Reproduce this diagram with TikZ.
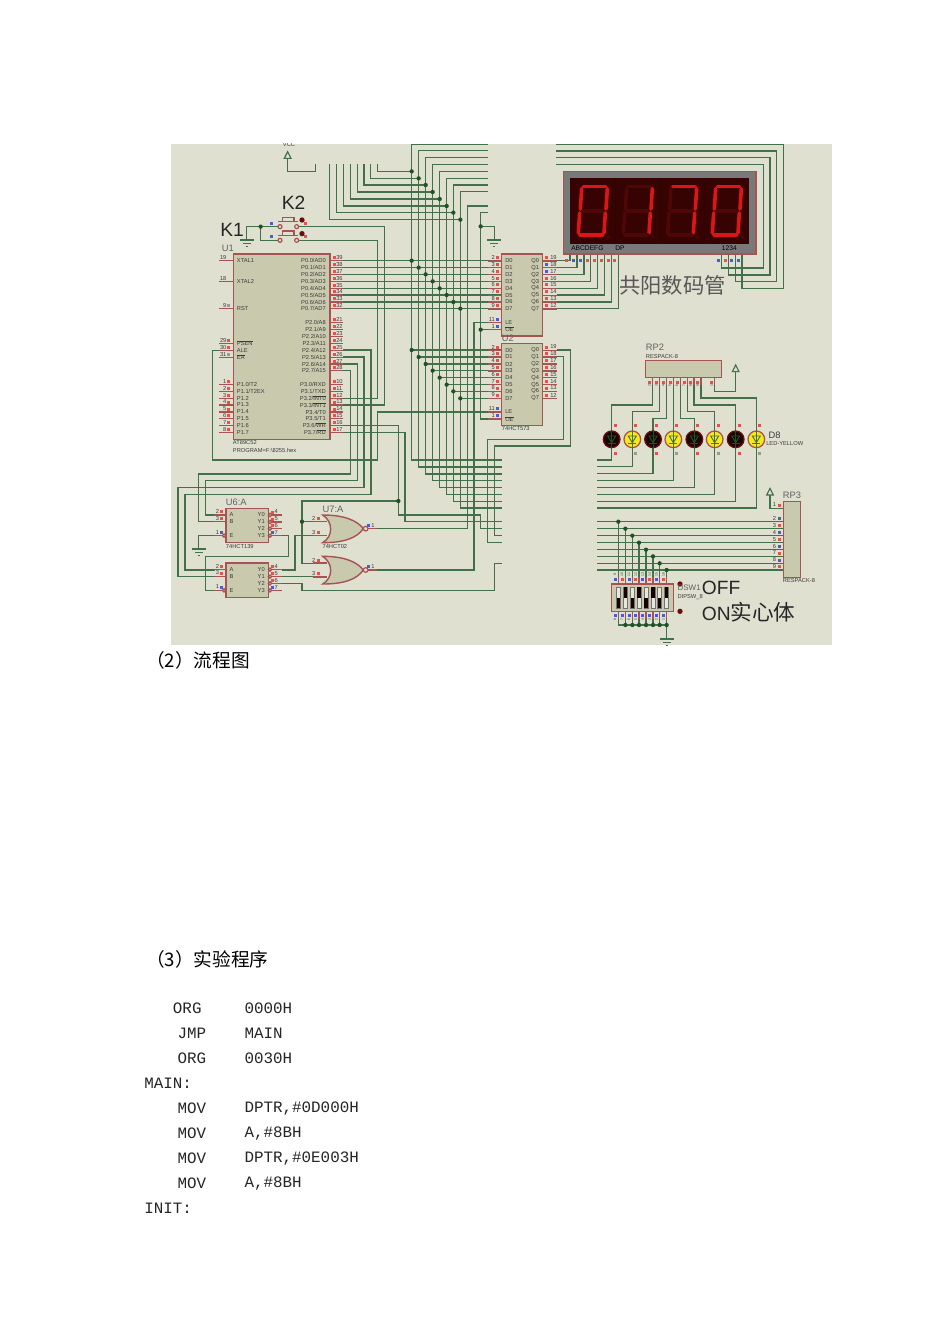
\documentclass[tikz,border=0pt]{standalone}
\usepackage{fontspec}
\setmainfont{Liberation Sans}
\newfontfamily\cjk{Noto Sans CJK SC}
\newfontfamily\codefont{Liberation Mono}
\definecolor{bgc}{HTML}{DFE0D0}
\definecolor{wirec}{HTML}{42704A}
\definecolor{dotc}{HTML}{1F5224}
\definecolor{pinc}{HTML}{A65353}
\definecolor{chipf}{HTML}{C9C9AE}
\definecolor{pr}{HTML}{E8504A}
\definecolor{pb}{HTML}{4A5AD8}
\definecolor{pg}{HTML}{999999}
\definecolor{pn}{HTML}{DFE0D0}
\definecolor{segon}{HTML}{DC1616}
\definecolor{segoff}{HTML}{4E0606}
\definecolor{txtc}{HTML}{3A3A3A}
\definecolor{darkred}{HTML}{6E0B0B}
\definecolor{ledy}{HTML}{F7E81C}
\definecolor{ledk}{HTML}{1C0404}
\definecolor{innerc}{HTML}{360202}
\tikzset{
  zone1/.style={shift={(170,140)},x=0.25pt,y=-0.25pt},
  zone2/.style={shift={(480,140)},x=0.25pt,y=-0.25pt},
  zone3/.style={shift={(170,440)},x=0.25pt,y=-0.25pt},
  zone4/.style={shift={(480,440)},x=0.25pt,y=-0.25pt},
  zone6/.style={shift={(440,200)},x=0.25pt,y=-0.25pt},
  wire/.style={draw=wirec,line width=0.85pt},
  pin/.style={draw=pinc,line width=0.9pt},
  chip/.style={draw=pinc,line width=1.05pt,fill=chipf},
  lbl/.style={inner sep=0pt,text=txtc,font=\fontsize{4.3}{5}\selectfont},
  mid/.style={inner sep=0pt,text=txtc!80,font=\fontsize{7}{8}\selectfont},
  big/.style={inner sep=0pt,text=black!85,font=\fontsize{14.4}{16}\selectfont},
  tinyrot/.style={inner sep=0pt,text=txtc,rotate=90,font=\fontsize{2.6}{3}\selectfont},
  para/.style={inner sep=0pt,anchor=west,text=black,font=\cjk\fontsize{14}{16}\selectfont},
  code/.style={inner sep=0pt,anchor=west,text=black!85,font=\codefont\fontsize{11.9}{13}\selectfont},
}
\newcommand\pad[3]{\fill[#1] ({#2-4.5},{#3-4.5}) rectangle ({#2+4.5},{#3+4.5});}
\newcommand\jn[2]{\fill[dotc] (#1,#2) circle[radius=6.5];}
\newcommand\gnd[2]{\draw[wire] ({#1-21},#2)--({#1+21},#2) ({#1-12},{#2+10})--({#1+12},{#2+10}) ({#1-3},{#2+20})--({#1+3},{#2+20});}
\newcommand\vcc[2]{\draw[wire,fill=bgc] (#1,{#2-10})--({#1-10},{#2+10})--({#1+10},{#2+10})--cycle;}
\newcommand\ovl[1]{\setbox0\hbox{#1}\rlap{\raisebox{\dimexpr\ht0+0.25pt}{\rule{\wd0}{0.25pt}}}\box0}
\begin{document}
\begin{tikzpicture}[x=0.75pt,y=-0.75pt]
\useasboundingbox (0,0) rectangle (950,1344);
\fill[white] (0,0) rectangle (950,1344);
\fill[bgc] (171,144) rectangle (832,645);
\begin{scope}
\clip (171,144) rectangle (832,645);
% ---------- wires, left part
\begin{scope}[zone1]
\node[lbl] (vcctext) at (357,13) {VCC};
\vcc{353}{45}
\draw[wire] (353,55)--(353,95)--(437,95)--(437,73);
\foreach \xx/\tp/\nt/\st/\po/\ps/\bt in {
 725/13/94/622/362/630/960,
 746/31/115/602/383/651/981,
 767/52/135/582/403/672/1002,
 788/73/156/562/424/692/1022,
 809/94/177/541/445/713/1043,
 830/115/198/520/465/734/1063,
 850/135/218/499/486/754/1084,
 871/155/239/479/506/775/1104}{
  \draw[wire] (953,\tp)--(\xx,\tp)--(\xx,\bt)--(995,\bt);
  \draw[wire] (\st,73)--(\st,\nt)--(\xx,\nt);
  \draw[wire] (520,\po)--(995,\po);
  \draw[wire] (\xx,\ps)--(995,\ps);
  \jn{\xx}{\nt}\jn{\xx}{\po}\jn{\xx}{\ps}
}
\draw[wire] (520,630)--(603,630)--(603,1063)--(45,1063)--(45,1290)--(135,1290);
\draw[wire] (520,651)--(582,651)--(582,1043)--(24,1043)--(24,1310)--(135,1310);
\draw[wire] (520,672)--(562,672)--(562,1022)--(106,1022)--(106,1125)--(135,1125);
\draw[wire] (520,692)--(541,692)--(541,1002)--(86,1002)--(86,1145)--(135,1145);
\draw[wire] (480,775)--(622,775)--(622,301)--(380,301);
\draw[wire] (480,795)--(643,795)--(643,260)--(380,260);
\draw[wire] (147,631)--(128,631)--(128,960)--(622,960)--(622,816)--(995,816);
\draw[wire] (520,856)--(685,856)--(685,1125)--(932,1125)--(932,1166)--(995,1166);
\draw[wire] (685,1083)--(396,1083)--(396,1270)--(472,1270);
\draw[wire] (396,1145)--(472,1145);
\jn{685}{1083}\jn{396}{1145}
\draw[wire] (520,877)--(705,877)--(705,1145)--(995,1145);
\draw[wire] (622,1166)--(892,1166)--(892,198)--(953,198);
\draw[wire] (622,1290)--(912,1290)--(912,548)--(995,548);
\draw[wire] (953,218)--(932,218)--(932,837)--(995,837);
\draw[wire] (932,259)--(973,259)--(973,300);
\draw[wire] (932,569)--(995,569);
\jn{932}{259}\jn{932}{569}
\gnd{973}{300}
\draw[wire] (1160,630)--(1201,630)--(1201,918)--(973,918)--(973,1187)--(995,1187);
\draw[wire] (1160,650)--(1180,650)--(1180,898)--(953,898)--(953,1207)--(995,1207);
\draw[wire] (335,1331)--(396,1331)--(396,1352)--(973,1352)--(973,1270)--(995,1270);
\draw[wire] (335,1310)--(472,1310);
\draw[wire] (335,1187)--(355,1187)--(355,1250)--(106,1250)--(106,1352)--(135,1352);
\draw[wire] (135,1187)--(86,1187)--(86,1225);
\gnd{86}{1227}
\draw[wire] (335,1290)--(375,1290)--(375,1187)--(472,1187);
% K1 K2
\draw[wire] (230,300)--(230,260)--(330,260);
\draw[wire] (272,260)--(272,301)--(330,301);
\jn{272}{260}
\gnd{230}{300}
\foreach \yy/\uu in {260/a,301/b}{
  \draw[pin,fill=bgc] (330,\yy) circle[radius=6];
  \draw[pin,fill=bgc] (380,\yy) circle[radius=6];
  \draw[pin] (325,{\yy-15})--(385,{\yy-15});
  \draw[pin,fill=bgc] (337,{\yy-15}) rectangle (372,{\yy-28});
  \fill[darkred] (396,{\yy-20}) circle[radius=8];
  \pad{pr}{405}{\yy-10}
  \pad{pb}{303}{\yy-10}
}
\node[big,anchor=west] (kone) at (150,271) {K1};
\node[big,anchor=west] (ktwo) at (335,189) {K2};
% U1
\draw[chip] (190,342) rectangle (480,898);
\node[mid,anchor=west] (uone) at (155,325) {U1};
\node[lbl,anchor=west] (uonea) at (188,909) {AT89C52};
\node[lbl,anchor=west] (uoneb) at (188,930) {PROGRAM=F:\textbackslash 8255.hex};
\foreach \yy/\txt/\nn/\col in {
 362/XTAL1/19/pn,425/XTAL2/18/pn,506/RST/9/pg,
 610/{\ovl{PSEN}}/29/pr,631/ALE/30/pr,652/{\ovl{EA}}/31/pg,
 734/{P1.0/T2}/1/pr,754/{P1.1/T2EX}/2/pr,775/P1.2/3/pr,795/P1.3/4/pr,
 816/P1.4/5/pr,836/P1.5/6/pr,857/P1.6/7/pr,877/P1.7/8/pr}{
  \draw[pin] (147,\yy)--(190,\yy);
  \pad{\col}{176}{\yy-9}
  \node[lbl,anchor=east] (ln\nn) at (170,{\yy-9}) {\nn};
  \node[lbl,anchor=west] (lt\nn) at (200,\yy) {\txt};
}
\foreach \yy/\txt/\nn in {
 362/{P0.0/AD0}/39,383/{P0.1/AD1}/38,403/{P0.2/AD2}/37,424/{P0.3/AD3}/36,
 445/{P0.4/AD4}/35,465/{P0.5/AD5}/34,486/{P0.6/AD6}/33,506/{P0.7/AD7}/32,
 548/{P2.0/A8}/21,568/{P2.1/A9}/22,589/{P2.2/A10}/23,610/{P2.3/A11}/24,
 631/{P2.4/A12}/25,652/{P2.5/A13}/26,672/{P2.6/A14}/27,692/{P2.7/A15}/28,
 734/{P3.0/RXD}/10,754/{P3.1/TXD}/11,775/{P3.2/\ovl{INT0}}/12,795/{P3.3/\ovl{INT1}}/13,
 816/{P3.4/T0}/14,836/{P3.5/T1}/15,857/{P3.6/\ovl{WR}}/16,877/{P3.7/\ovl{RD}}/17}{
  \draw[pin] (480,\yy)--(520,\yy);
  \pad{pr}{492}{\yy-9}
  \node[lbl,anchor=west] (rn\nn) at (498,{\yy-9}) {\nn};
  \node[lbl,anchor=east] (rt\nn) at (468,\yy) {\txt};
}
\end{scope}
% ---------- latches
\begin{scope}[zone6]
\foreach \dy/\nm in {0/a,268/b}{
  \begin{scope}[yshift={-\dy*0.25pt}]
  \draw[chip] (185,162) rectangle (308,408);
  \foreach \yy/\ii/\ln/\rn in {183/0/2/19,203/1/3/18,224/2/4/17,245/3/5/16,265/4/6/15,286/5/7/14,306/6/8/13,327/7/9/12}{
    \draw[pin] (143,\yy)--(185,\yy) (308,\yy)--(350,\yy);
    \pad{pr}{172}{\yy-10}
    \pad{pr}{320}{\yy-10}
    \node[lbl,anchor=east] (dn\nm\ii) at (165,{\yy-10}) {\ln};
    \node[lbl,anchor=west] (qn\nm\ii) at (330,{\yy-10}) {\rn};
    \node[lbl,anchor=west] (dt\nm\ii) at (195,\yy) {D\ii};
    \node[lbl,anchor=east] (qt\nm\ii) at (298,\yy) {Q\ii};
  }
  \draw[pin] (143,368)--(185,368) (143,389)--(185,389);
  \pad{pb}{172}{358}\pad{pb}{172}{379}
  \node[lbl,anchor=east] (ln\nm) at (165,358) {11};
  \node[lbl,anchor=east] (on\nm) at (165,379) {1};
  \node[lbl,anchor=west] (lt\nm) at (195,368) {LE};
  \node[lbl,anchor=west] (ot\nm) at (195,389) {\ovl{OE}};
  \end{scope}
}
\pad{pb}{320}{193}\pad{pb}{320}{214}
\node[mid,anchor=west] (utwo) at (185,416) {U2};
\node[lbl,anchor=west] (hcta) at (185,687) {74HCT573};
\end{scope}
% ---------- right wires and display
\begin{scope}[zone2]
\foreach \tp/\rx/\bt/\lx in {13/911/445/786,33/890/425/766,53/870/405/745,74/850/384/725}{
  \draw[wire] (229,\tp)--(\rx,\tp)--(\rx,\bt)--(\lx,\bt)--(\lx,342);
}
\foreach \yy/\xx in {362/270,383/291,403/312,424/332,445/353,465/373,486/394,506/415}{
  \draw[wire] (230,\yy)--(\xx,\yy)--(\xx,342);
}
\draw[chip,fill=gray!95!black] (250,95) rectangle (828,342);
\fill[innerc] (270,115) rectangle (808,312);
\foreach \xx in {405,540,673}{\draw[line width=0.5pt,black!60!darkred] (\xx,115)--(\xx,312);}
\foreach \dd/\sa/\sb/\sc/\sd/\se/\sf/\sg in {
  0/segon/segon/segon/segon/segon/segon/segoff,
  135/segoff/segon/segon/segoff/segoff/segoff/segoff,
  268/segon/segon/segon/segoff/segoff/segoff/segoff,
  402/segon/segon/segon/segon/segon/segon/segoff}{
  \begin{scope}[xshift=\dd*0.25pt,line width=2.7pt,line cap=round]
   \draw[\sg] (307,213)--(370,213);
   \draw[\sa] (310,140)--(377,140);
   \draw[\sb] (382,146)--(378,207);
   \draw[\sc] (376,219)--(372,279);
   \draw[\sd] (300,285)--(367,285);
   \draw[\se] (299,219)--(295,279);
   \draw[\sf] (305,146)--(301,207);
   \fill[segoff] (385,291) circle[radius=5];
  \end{scope}
}
\node[lbl,anchor=west,text=black,font=\fontsize{5}{6}\selectfont] (dispa) at (273,326) {ABCDEFG};
\node[lbl,anchor=west,text=black,font=\fontsize{5}{6}\selectfont] (dispb) at (405,326) {DP};
\node[lbl,anchor=west,text=black,font=\fontsize{5}{6}\selectfont] (dispc) at (725,326) {1234};
\foreach \xx/\col in {260/pr,280/pb,301/pb,322/pr,343/pr,363/pr,384/pr,404/pr,714/pb,735/pr,755/pb,776/pb}{\pad{\col}{\xx}{363}}
\node[inner sep=0pt,anchor=west,text=txtc!85,font=\cjk\fontsize{16}{18}\selectfont] (cathode) at (417,435) {共阳数码管};
% RP2
\node[mid,anchor=west] (rptwo) at (497,622) {RP2};
\node[lbl,anchor=west] (rptwob) at (497,649) {RESPACK-8};
\foreach \xx/\ya/\xb/\nn in {518/795/395/2,539/815/457/3,560/836/519/4,580/836/580/5,601/836/643/6,622/815/704/7,642/795/767/8,663/774/829/9}{
  \draw[wire] (\xx,713)--(\xx,\ya)--(\xb,\ya)--(\xb,875);
  \pad{pr}{\xx-10}{728}
  \node[tinyrot] (rpn\nn) at ({\xx-10},738) {\nn};
  \draw[pin] (\xx,713)--(\xx,735);
}
\draw[wire] (704,713)--(704,754)--(767,754)--(767,695);
\draw[pin] (704,713)--(704,735);
\vcc{767}{685}
\pad{pr}{694}{728}
\node[tinyrot] (rpnone) at (694,738) {1};
\draw[chip] (497,662) rectangle (725,713);
% LEDs
\foreach \xx/\yy/\fc/\dc/\padc/\sym in {
 395/960/ledk/darkred/pr/dotc,457/980/ledy/pinc/pg/wirec,
 519/1001/ledk/darkred/pr/dotc,580/1022/ledy/pinc/pg/wirec,
 643/1042/ledk/darkred/pr/dotc,704/1063/ledy/pinc/pg/wirec,
 767/1084/ledk/darkred/pr/dotc,829/1104/ledy/pinc/pg/wirec}{
  \draw[wire] (\xx,920)--(\xx,\yy)--(352,\yy);
  \draw[draw=\dc,line width=0.95pt,fill=\fc] (\xx,898) circle[radius=25];
  \draw[\sym,line width=0.7pt] ({\xx-12},888)--({\xx+12},888)--(\xx,908)--cycle;
  \draw[\sym,line width=0.7pt] ({\xx-12},909)--({\xx+12},909) (\xx,873)--(\xx,923);
  \pad{pr}{\xx+10}{857}
  \pad{\padc}{\xx+10}{939}
}
\node[lbl,anchor=west,font=\fontsize{7}{8}\selectfont] (ledd) at (865,887) {D8};
\node[lbl,anchor=west] (ledt) at (858,912) {LED-YELLOW};
\end{scope}
% ---------- decoders and gates
\begin{scope}[zone3]
\foreach \dy/\nm in {0/a,164/b}{
 \begin{scope}[yshift={-\dy*0.25pt}]
  \draw[chip] (168,205) rectangle (295,308);
  \foreach \yy/\txt/\nn/\col in {225/A/2/pr,245/B/3/pr}{
    \draw[pin] (133,\yy)--(168,\yy);
    \pad{\col}{155}{\yy-10}
    \node[lbl,anchor=east] (dl\nm\nn) at (148,{\yy-10}) {\nn};
    \node[lbl,anchor=west] (dt\nm\nn) at (178,\yy) {\txt};
  }
  \draw[pin] (133,287)--(157,287);
  \draw[pin,fill=bgc] (162,287) circle[radius=5];
  \pad{pb}{155}{277}
  \node[lbl,anchor=east] (dle\nm) at (148,277) {1};
  \node[lbl,anchor=west] (dte\nm) at (178,287) {E};
  \foreach \yy/\ii/\nn in {225/0/4,246/1/5,266/2/6,287/3/7}{
    \draw[pin] (305,\yy)--(335,\yy);
    \draw[pin,fill=bgc] (300,\yy) circle[radius=5];
    \pad{pr}{306}{\yy-9}
    \node[lbl,anchor=west] (dr\nm\ii) at (313,{\yy-9}) {\nn};
    \node[lbl,anchor=east] (dq\nm\ii) at (285,\yy) {Y\ii};
  }
  \pad{pb}{306}{278}
 \end{scope}
}
\node[mid,anchor=west] (usix) at (167,188) {U6:A};
\node[lbl,anchor=west] (hctb) at (167,319) {74HCT139};
\foreach \dy/\nm in {0/a,124/b}{
 \begin{scope}[yshift={-\dy*0.25pt}]
  \draw[pin] (430,245)--(472,245) (430,287)--(472,287) (594,266)--(622,266);
  \draw[chip] (458,225) .. controls (490,245) and (490,290) .. (458,308)
     .. controls (520,308) and (560,295) .. (580,266)
     .. controls (560,240) and (520,225) .. (458,225) -- cycle;
  \draw[pin,fill=bgc] (587,266) circle[radius=7];
  \pad{pr}{444}{236}\pad{pr}{444}{277}\pad{pb}{596}{256}
  \node[lbl,anchor=east] (gi\nm) at (437,236) {2};
  \node[lbl,anchor=east] (gj\nm) at (437,277) {3};
  \node[lbl,anchor=west] (go\nm) at (603,256) {1};
 \end{scope}
}
\node[mid,anchor=west] (useven) at (457,208) {U7:A};
\node[lbl,anchor=west] (hctc) at (457,319) {74HCT02};
\end{scope}
% ---------- RP3, DIP switch
\begin{scope}[zone4]
\foreach \yy/\xx/\nn/\col in {245/415/2/pb,266/436/3/pr,287/457/4/pb,308/477/5/pr,329/498/6/pb,349/519/7/pr,370/539/8/pb,390/560/9/pr}{
  \draw[wire] (352,\yy)--(910,\yy);
  \draw[wire] (\xx,\yy)--(\xx,432);
  \jn{\xx}{\yy}
  \pad{\col}{897}{\yy-10}
  \node[lbl,anchor=east] (rpt\nn) at (889,{\yy-10}) {\nn};
}
\draw[wire] (910,205)--(870,205)--(870,165);
\vcc{870}{155}
\pad{pr}{897}{195}
\node[lbl,anchor=east] (rptone) at (889,195) {1};
\draw[chip] (910,184) rectangle (962,412);
\node[mid,anchor=west] (rpthree) at (908,167) {RP3};
\node[lbl,anchor=west] (rpthreeb) at (908,422) {RESPACK-8};
% DIP
\draw[wire] (415,515)--(415,555)--(560,555)--(560,595);
\foreach \xx in {436,457,477,498,519,539,560}{
  \draw[wire] (\xx,515)--(\xx,555);
  \jn{\xx}{555}
}
\gnd{560}{597}
\draw[chip] (394,432) rectangle (581,515);
\foreach \xx/\yt/\yb/\pt/\nt/\nb/\pbc in {
 415/474/505/pb/9/8/pb,436/442/474/pr/10/7/pb,457/474/505/pb/11/6/pb,477/442/474/pr/12/5/pb,
 498/474/505/pb/13/4/pb,519/442/474/pr/14/3/pb,539/474/505/pb/15/2/pb,560/442/474/pr/16/1/pb}{
  \draw[draw=black!55,line width=0.4pt,fill=chipf!45!white] ({\xx-6},442) rectangle ({\xx+6},505);
  \fill[black!80!darkred] ({\xx-5},\yt) rectangle ({\xx+5},\yb);
  \draw[pin] (\xx,410)--(\xx,432) (\xx,515)--(\xx,537);
  \pad{\pt}{\xx-10}{418}
  \pad{\pbc}{\xx-10}{526}
  \node[tinyrot] (dipt\nt) at ({\xx-10},404) {\nt};
  \node[tinyrot] (dipb\nb) at ({\xx-10},538) {\nb};
}
\fill[darkred] (600,432) circle[radius=8];
\fill[darkred] (600,514) circle[radius=8];
\node[mid,anchor=west,font=\fontsize{6}{7}\selectfont] (dsw) at (592,443) {DSW1};
\node[lbl,anchor=west] (dswb) at (592,470) {DIPSW\_8};
\node[big,anchor=west] (offt) at (665,443) {OFF};
\node[big,anchor=west] (ont) at (665,517) {ON{\cjk\fontsize{16.2}{18}\selectfont 实心体}};
\end{scope}
\end{scope}
% ---------- document text
\node[para] (secb) at (146,660) {（2）流程图};
\node[para] (secc) at (146,959.5) {（3）实验程序};
\foreach \xx/\yy/\txt/\nn in {
 172.7/1008.3/ORG/a,244.3/1008.3/0000H/b,177.3/1033.3/JMP/c,244.3/1033.3/MAIN/d,
 177.3/1058.3/ORG/e,244.3/1058.3/0030H/f,144/1083.3/MAIN:/g,
 177.3/1108.3/MOV/h,244.3/1108.3/{DPTR,\#0D000H}/i,
 177.3/1133.3/MOV/j,244.3/1133.3/{A,\#8BH}/k,
 177.3/1158.3/MOV/l,244.3/1158.3/{DPTR,\#0E003H}/m,
 177.3/1183.3/MOV/n,244.3/1183.3/{A,\#8BH}/o,144/1208.3/INIT:/p}{
  \node[code] (code\nn) at (\xx,\yy) {\txt};
}
\end{tikzpicture}
\end{document}
